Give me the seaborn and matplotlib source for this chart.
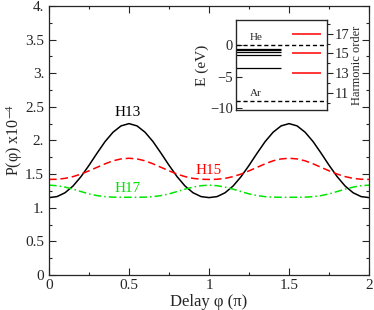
import numpy as np
import pandas as pd
import seaborn as sns
import matplotlib
matplotlib.use('Agg')
import matplotlib.pyplot as plt
from matplotlib.ticker import MultipleLocator

sns.set_style('ticks')
plt.rcParams['font.family'] = ['Liberation Serif', 'DejaVu Serif']
plt.rcParams['mathtext.fontset'] = 'stix'

# delay in units of pi
delay = [0.00, 0.05, 0.10, 0.15, 0.20, 0.25, 0.30, 0.35, 0.40, 0.45, 0.50,
         0.55, 0.60, 0.65, 0.70, 0.75, 0.80, 0.85, 0.90, 0.95, 1.00,
         1.05, 1.10, 1.15, 1.20, 1.25, 1.30, 1.35, 1.40, 1.45, 1.50,
         1.55, 1.60, 1.65, 1.70, 1.75, 1.80, 1.85, 1.90, 1.95, 2.00]

h13 = [1.150, 1.165, 1.222, 1.322, 1.462, 1.630, 1.810, 1.982, 2.122, 2.216, 2.250,
       2.216, 2.122, 1.982, 1.810, 1.630, 1.462, 1.322, 1.222, 1.165, 1.150,
       1.165, 1.222, 1.322, 1.462, 1.630, 1.810, 1.982, 2.122, 2.216, 2.250,
       2.216, 2.122, 1.982, 1.810, 1.630, 1.462, 1.322, 1.222, 1.165, 1.150]

h15 = [1.420, 1.423, 1.436, 1.462, 1.500, 1.548, 1.600, 1.652, 1.697, 1.725, 1.735,
       1.725, 1.697, 1.652, 1.600, 1.548, 1.500, 1.462, 1.436, 1.423, 1.420,
       1.423, 1.436, 1.462, 1.500, 1.548, 1.600, 1.652, 1.697, 1.725, 1.735,
       1.725, 1.697, 1.652, 1.600, 1.548, 1.500, 1.462, 1.436, 1.423, 1.420]

h17 = [1.335, 1.327, 1.306, 1.276, 1.240, 1.205, 1.180, 1.164, 1.157, 1.155, 1.155,
       1.155, 1.157, 1.164, 1.180, 1.205, 1.240, 1.276, 1.306, 1.327, 1.335,
       1.327, 1.306, 1.276, 1.240, 1.205, 1.180, 1.164, 1.157, 1.155, 1.155,
       1.155, 1.157, 1.164, 1.180, 1.205, 1.240, 1.276, 1.306, 1.327, 1.335]

ytick_vals = [0, 0.5, 1, 1.5, 2, 2.5, 3, 3.5, 4]
ytick_lbls = ['0', '0.5', '1.', '1.5', '2.', '2.5', '3.', '3.5', '4.']
xtick_vals = [0, 0.5, 1, 1.5, 2]
xtick_lbls = ['0', '0.5', '1', '1.5', '2']

# inset: energy levels (eV, relative to He ionisation)
he_levels = [-3.6, -1.6, -1.05, -0.8, -0.55]
harm_orders = [13, 15, 17]
harm_energy = [-4.42, -1.30, 1.82]
ip_he = 0.0
ip_ar = -8.85

df = pd.DataFrame({'delay': delay * 3,
                   'P': h13 + h15 + h17,
                   'harm': ['H13'] * len(delay) + ['H15'] * len(delay) + ['H17'] * len(delay)})

colors = {'H13': 'black', 'H15': '#ff0000', 'H17': '#00e600'}
dashes = {'H13': '', 'H15': (5, 2.5), 'H17': (5, 2, 1, 2)}

fig = plt.figure(figsize=(3.74, 3.10), dpi=100)
ax = fig.add_axes([0.131, 0.113, 0.856, 0.868])

sns.lineplot(data=df, x='delay', y='P', hue='harm', style='harm',
             palette=colors, dashes=dashes, lw=1.1, legend=False, ax=ax)

ax.set_xlim(0, 2)
ax.set_ylim(0, 4)
ax.set_xticks(xtick_vals, labels=xtick_lbls)
ax.set_yticks(ytick_vals, labels=ytick_lbls)
ax.xaxis.set_minor_locator(MultipleLocator(0.25))
ax.yaxis.set_minor_locator(MultipleLocator(0.25))
ax.tick_params(which='both', direction='in', top=True, right=True, labelsize=11, width=0.8)
ax.tick_params(which='major', length=5)
ax.tick_params(which='minor', length=2.5)
ax.tick_params(axis='x', pad=3)
for s in ax.spines.values():
    s.set_linewidth(0.9)
ax.set_xlabel('Delay φ (π)', fontsize=12, labelpad=1)
ax.set_ylabel('P(φ) x10$^{-4}$', fontsize=11.5, labelpad=0)

ax.text(0.49, 2.42, 'H13', color='black', fontsize=11, ha='center', va='center')
ax.text(1.0, 1.56, 'H15', color='#ff0000', fontsize=11, ha='center', va='center')
ax.text(0.49, 1.29, 'H17', color='#00e600', fontsize=11, ha='center', va='center')

# inset
ins = fig.add_axes([0.631, 0.645, 0.243, 0.29])
for e in he_levels:
    ins.hlines(e, 0, 0.5, color='black', lw=0.9)
for e in harm_energy:
    ins.hlines(e, 0.62, 0.94, color='#ff0000', lw=1.1)
ins.axhline(ip_he, color='black', lw=1.0, ls=(0, (3, 2)))
ins.axhline(ip_ar, color='black', lw=1.0, ls=(0, (3, 2)))
ins.text(0.15, ip_he + 0.5, 'He', fontsize=8, ha='left', va='bottom')
ins.text(0.15, ip_ar + 0.4, 'Ar', fontsize=8, ha='left', va='bottom')
ins.set_xlim(0, 1)
ins.set_ylim(-10.3, 4)
ins.set_xticks([])
ins.set_yticks([0, -5, -10])
ins.tick_params(direction='in', length=4, labelsize=10.5, pad=2, width=0.8)
ins.set_ylabel('E (eV)', fontsize=11, labelpad=1)
for s in ins.spines.values():
    s.set_linewidth(0.9)

ins2 = ins.twinx()
# harmonic order axis aligned with energy (1.56 eV per order)
ins2.set_ylim(13 + (-10.3 - harm_energy[0]) / 1.56, 13 + (4 - harm_energy[0]) / 1.56)
ins2.set_yticks([11, 13, 15, 17])
ins2.yaxis.set_minor_locator(MultipleLocator(1))
ins2.tick_params(which='both', direction='out', labelsize=10.5, pad=2, width=0.8)
ins2.tick_params(which='major', length=4)
ins2.tick_params(which='minor', length=2)
ins2.set_ylabel('Harmonic order', fontsize=9, labelpad=1)

fig.savefig('out.png', dpi=100)
